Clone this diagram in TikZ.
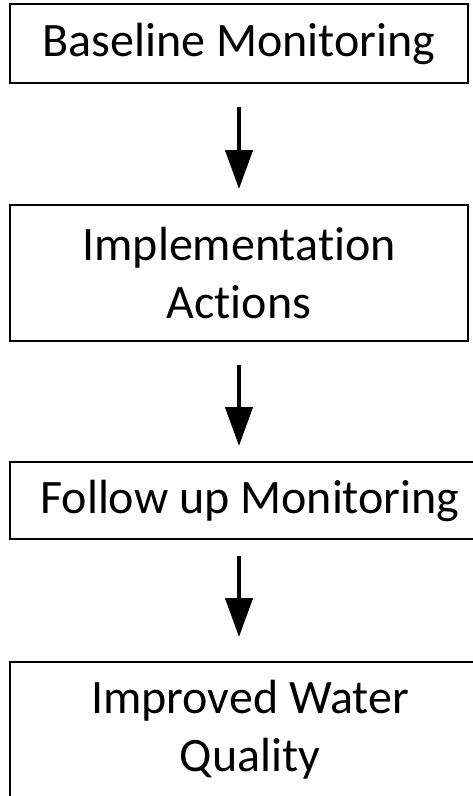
\documentclass[tikz,border=0pt]{standalone}
\usepackage{fontspec}
\setmainfont[Ligatures={NoCommon,NoRare,NoContextual},Contextuals=NoAlternate]{Carlito}
\usetikzlibrary{arrows.meta}
\begin{document}
\begin{tikzpicture}[x=1pt,y=-1pt,
  box/.style={draw=black, line width=1.5pt, rectangle, inner sep=0pt, align=center,
    font=\fontsize{48}{58}\selectfont},
  arr/.style={line width=4.5pt, -{Triangle[length=39pt,width=27pt]}}]
\useasboundingbox (0,0) rectangle (472,796);
\node[box, minimum width=458pt, minimum height=79pt] (b1) at (239,43.5) {Baseline Monitoring};
\node[box, minimum width=458pt, minimum height=136pt] (b2) at (239,273) {Implementation\\Actions};
\node[box, minimum width=480pt, minimum height=77pt] (b3) at (250,500.5) {Follow up Monitoring};
\node[box, minimum width=480pt, minimum height=136pt] (b4) at (250,730) {Improved Water\\Quality};
\coordinate (a1s) at (239,107);
\coordinate (a1e) at (239,189);
\coordinate (a2s) at (239,365);
\coordinate (a2e) at (239,446);
\coordinate (a3s) at (239,556);
\coordinate (a3e) at (239,637);
\draw[arr] (a1s) -- (a1e);
\draw[arr] (a2s) -- (a2e);
\draw[arr] (a3s) -- (a3e);
\end{tikzpicture}
\end{document}
